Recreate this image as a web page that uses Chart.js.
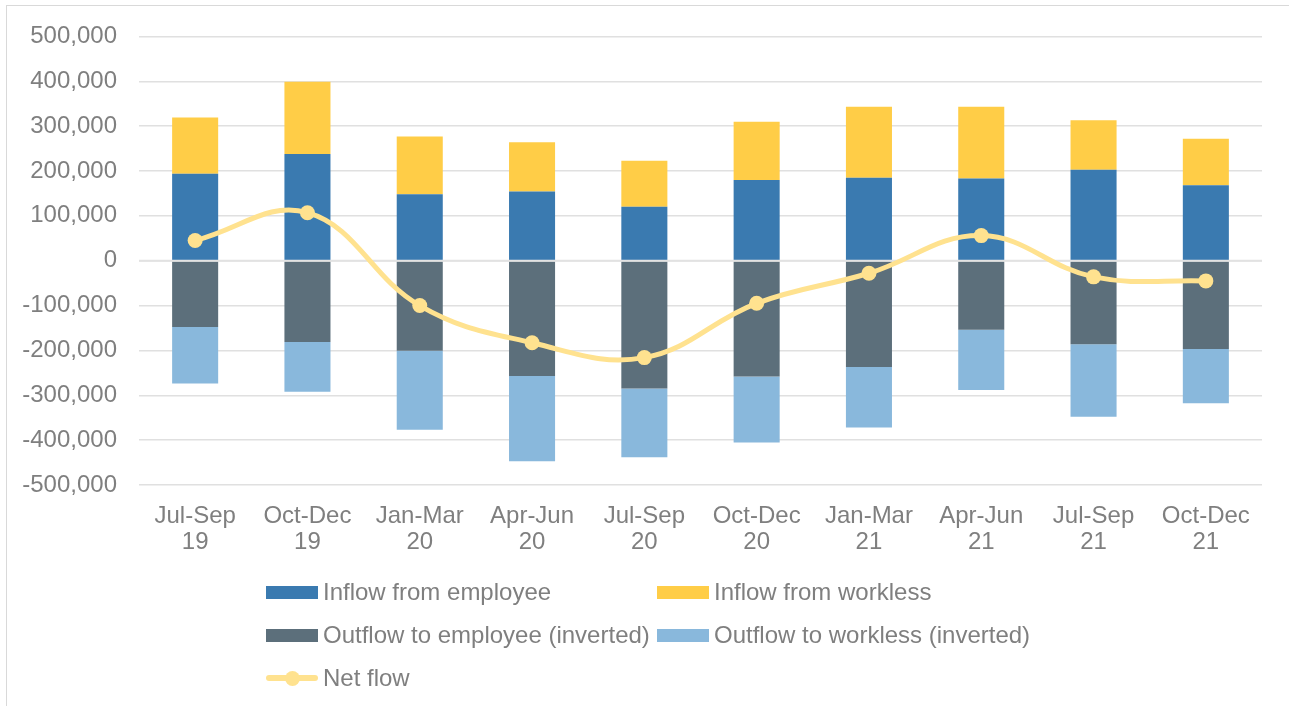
<!DOCTYPE html>
<html>
<head>
<meta charset="utf-8">
<script src="https://cdn.jsdelivr.net/npm/chart.js@4/dist/chart.umd.min.js"></script>
<style>
  html, body { margin: 0; padding: 0; background: #ffffff; overflow: hidden; }
  #frame { position: absolute; left: 6px; top: 5px; width: 1300px; height: 720px; border: 1px solid #d9d9d9; box-sizing: border-box; }
  #wrap { position: absolute; left: 0; top: 0; width: 1289px; height: 706px; }
  .lg { position: absolute; font-family: "Liberation Sans", Arial, sans-serif; font-size: 24px; color: #7f7f7f; line-height: 28px; white-space: nowrap; }
  .sw { position: absolute; width: 52px; height: 13px; }
  .ln { position: absolute; width: 52px; height: 6px; border-radius: 3px; }
  .dot { position: absolute; width: 15px; height: 15px; border-radius: 50%; }
</style>
</head>
<body>
<div id="frame"></div>
<div id="wrap"><canvas id="c" width="1289" height="706"></canvas></div>
<div id="legend"></div>
<script>
// Quarterly labour market flows (two-line category labels)
const quarters = [
  ["Jul-Sep", "19"], ["Oct-Dec", "19"], ["Jan-Mar", "20"], ["Apr-Jun", "20"], ["Jul-Sep", "20"],
  ["Oct-Dec", "20"], ["Jan-Mar", "21"], ["Apr-Jun", "21"], ["Jul-Sep", "21"], ["Oct-Dec", "21"]
];

const inflowEmployee = [194000, 238000, 148000, 154000, 120000, 180000, 185000, 183000, 203000, 168000];
const inflowWorkless = [125000, 161000, 129000, 110000, 103000, 130000, 158000, 160000, 110000, 104000];
const outflowEmployee = [-148000, -181000, -201000, -257000, -285000, -258000, -237000, -154000, -186000, -197000];
const outflowWorkless = [-126000, -111000, -176000, -190000, -153000, -147000, -135000, -134000, -162000, -121000];
const netFlow = [45000, 107000, -100000, -183000, -216000, -95000, -28000, 56000, -36000, -45000];

const yTicksMin = -500000;
const yTicksMax = 500000;
const yTicksStep = 100000;

const colors = {
  inflowEmployee: "#3a7ab0",
  inflowWorkless: "#ffcd47",
  outflowEmployee: "#5c6f7b",
  outflowWorkless: "#89b8dc",
  netFlow: "#ffe28f"
};

const FONT = "'Liberation Sans', Arial, sans-serif";
const TEXT = "#7f7f7f";

// Axis line at zero, painted over the bars but under the net-flow line
const zeroLine = {
  id: "zeroLine",
  beforeDatasetDraw(chart, args) {
    if (args.meta.type !== "line") return;
    const y = chart.scales.y.getPixelForValue(0);
    const ctx = chart.ctx;
    ctx.save();
    ctx.strokeStyle = "#e2e2e2";
    ctx.lineWidth = 2;
    ctx.beginPath();
    ctx.moveTo(chart.chartArea.left, y);
    ctx.lineTo(chart.chartArea.right, y);
    ctx.stroke();
    ctx.restore();
  }
};

const barCommon = { type: "bar", order: 1, categoryPercentage: 1, barPercentage: 0.41, borderWidth: 0 };

new Chart(document.getElementById("c"), {
  data: {
    labels: quarters,
    datasets: [
      Object.assign({ label: "Inflow from employee", data: inflowEmployee, backgroundColor: colors.inflowEmployee, stack: "flows" }, barCommon),
      Object.assign({ label: "Inflow from workless", data: inflowWorkless, backgroundColor: colors.inflowWorkless, stack: "flows" }, barCommon),
      Object.assign({ label: "Outflow to employee (inverted)", data: outflowEmployee, backgroundColor: colors.outflowEmployee, stack: "flows" }, barCommon),
      Object.assign({ label: "Outflow to workless (inverted)", data: outflowWorkless, backgroundColor: colors.outflowWorkless, stack: "flows" }, barCommon),
      {
        type: "line", label: "Net flow", data: netFlow, stack: "net", order: 0,
        borderColor: colors.netFlow, backgroundColor: colors.netFlow,
        borderWidth: 5, tension: 0.4, pointRadius: 7.5, pointHoverRadius: 7.5,
        pointBackgroundColor: colors.netFlow, pointBorderWidth: 0, fill: false
      }
    ]
  },
  options: {
    responsive: false,
    devicePixelRatio: 1,
    animation: false,
    layout: { padding: { left: 0, top: 35, right: 27, bottom: 121 } },
    plugins: { legend: { display: false }, tooltip: { enabled: false } },
    scales: {
      x: {
        stacked: true,
        grid: { display: false },
        border: { display: false },
        afterFit: (s) => { s.height = 100; },
        ticks: { color: TEXT, padding: 10, maxRotation: 0, autoSkip: false, font: { family: FONT, size: 24, lineHeight: 1.1 } }
      },
      y: {
        stacked: true,
        min: yTicksMin, max: yTicksMax,
        afterFit: (s) => { s.width = 139; },
        grid: { color: "#e0e0e0", lineWidth: 1.5, drawTicks: false },
        border: { display: false },
        ticks: {
          stepSize: yTicksStep, padding: 22, color: TEXT,
          font: { family: FONT, size: 24 },
          callback: (v) => v.toLocaleString("en-US")
        }
      }
    }
  },
  plugins: [zeroLine]
});

// Two-column legend beneath the plot
const legendItems = [
  { text: "Inflow from employee", color: colors.inflowEmployee, kind: "box", col: 0, row: 0 },
  { text: "Inflow from workless", color: colors.inflowWorkless, kind: "box", col: 1, row: 0 },
  { text: "Outflow to employee (inverted)", color: colors.outflowEmployee, kind: "box", col: 0, row: 1 },
  { text: "Outflow to workless (inverted)", color: colors.outflowWorkless, kind: "box", col: 1, row: 1 },
  { text: "Net flow", color: colors.netFlow, kind: "line", col: 0, row: 2 }
];
const legend = document.getElementById("legend");
const colX = [266, 657];
const rowY = [592, 635, 678];
legendItems.forEach((it) => {
  const x = colX[it.col], cy = rowY[it.row];
  if (it.kind === "box") {
    const b = document.createElement("div");
    b.className = "sw";
    b.style.left = x + "px"; b.style.top = (cy - 6.5) + "px"; b.style.background = it.color;
    legend.appendChild(b);
  } else {
    const l = document.createElement("div");
    l.className = "ln";
    l.style.left = x + "px"; l.style.top = (cy - 3) + "px"; l.style.background = it.color;
    legend.appendChild(l);
    const d = document.createElement("div");
    d.className = "dot";
    d.style.left = (x + 26 - 7.5) + "px"; d.style.top = (cy - 7.5) + "px"; d.style.background = it.color;
    legend.appendChild(d);
  }
  const t = document.createElement("div");
  t.className = "lg";
  t.textContent = it.text;
  t.style.left = (x + 57) + "px"; t.style.top = (cy - 14) + "px";
  legend.appendChild(t);
});
</script>
</body>
</html>
